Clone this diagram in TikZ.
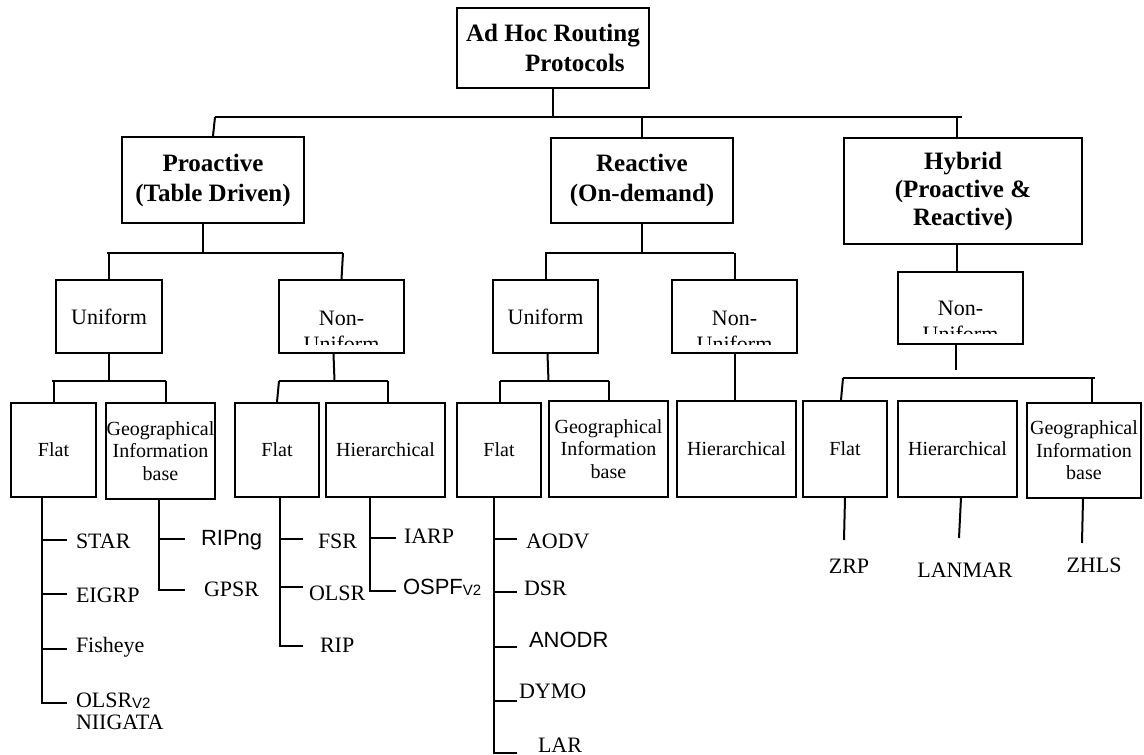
\documentclass[tikz,border=0pt]{standalone}
\usepackage{fontspec}
\setmainfont{Liberation Serif}
\newfontfamily\arialf{Liberation Sans}
% small sans subscript used in protocol names
\newcommand\vsub[1]{\raisebox{-1pt}{\arialf\fontsize{15}{15}\selectfont #1}}
\begin{document}
\begin{tikzpicture}[x=1pt,y=-1pt,line width=2pt,
  box/.style={draw,line width=2pt,inner sep=0pt,align=center},
  head/.style={box,font=\fontsize{25}{30}\selectfont\bfseries},
  mid/.style={box,font=\fontsize{22}{26}\selectfont},
  low/.style={box,font=\fontsize{20}{22.5}\selectfont},
  lbl/.style={inner sep=0pt,font=\fontsize{22}{22}\selectfont},
  leaf/.style={lbl,anchor=base west},
  sansleaf/.style={leaf,font=\arialf\fontsize{22}{22}\selectfont}]
\useasboundingbox (0,0) rectangle (1144,755);

% ---------- level 0 and 1 ----------
\node[head,align=left,minimum width=192pt,minimum height=80pt] (top) at (553,48)
  {Ad Hoc Routing\\\hspace*{59pt}Protocols};
\node[head,minimum width=182pt,minimum height=86pt] (pro) at (213,180) {Proactive\\(Table Driven)};
\node[head,minimum width=182pt,minimum height=85pt] (rea) at (642,180.5) {Reactive\\(On-demand)};
\node[head,font=\fontsize{25}{28}\selectfont\bfseries,minimum width=238pt,minimum height=106pt] (hyb) at (963,191)
  {Hybrid\\(Proactive \&\\Reactive)};

% ---------- level 2 ----------
\node[mid,minimum width=106pt,minimum height=73pt] (u1) at (109,316.5) {Uniform};
\node[box,minimum width=125pt,minimum height=73pt] (nu1) at (341.5,316.5) {};
\node[mid,minimum width=105pt,minimum height=73pt] (u2) at (545.5,316.5) {Uniform};
\node[box,minimum width=125pt,minimum height=73pt] (nu2) at (734.5,316.5) {};
\node[box,minimum width=125pt,minimum height=72pt] (nu3) at (960.5,308) {};

% two-line labels cut off by the lower edge of their text frame
\begin{scope}
  \clip (nu1.north west) rectangle (nu1.east |- 0,344);
  \node[lbl,anchor=base] (nu1a) at (341.5,325) {Non-};
  \node[lbl,anchor=base] (nu1b) at (341.5,351) {Uniform};
\end{scope}
\begin{scope}
  \clip (nu2.north west) rectangle (nu2.east |- 0,344);
  \node[lbl,anchor=base] (nu2a) at (734.5,325) {Non-};
  \node[lbl,anchor=base] (nu2b) at (734.5,351) {Uniform};
\end{scope}
\begin{scope}
  \clip (nu3.north west) rectangle (nu3.east |- 0,333);
  \node[lbl,anchor=base] (nu3a) at (960.5,315) {Non-};
  \node[lbl,anchor=base] (nu3b) at (960.5,341) {Uniform};
\end{scope}

% ---------- level 3 ----------
\node[low,minimum width=85pt,minimum height=94pt] (f1) at (53.5,450) {Flat};
\node[low,minimum width=109pt,minimum height=96pt] (g1) at (160.5,451) {Geographical\\Information\\base};
\node[low,minimum width=84pt,minimum height=94pt] (f2) at (277,450) {Flat};
\node[low,minimum width=119pt,minimum height=94pt] (h1) at (385.5,450) {Hierarchical};
\node[low,minimum width=84pt,minimum height=94pt] (f3) at (499,450) {Flat};
\node[low,minimum width=119pt,minimum height=96pt] (g2) at (608.5,449) {Geographical\\Information\\base};
\node[low,minimum width=119pt,minimum height=96pt] (h2) at (736.5,449) {Hierarchical};
\node[low,minimum width=84pt,minimum height=96pt] (f4) at (845,449) {Flat};
\node[low,minimum width=119pt,minimum height=96pt] (h3) at (957.5,449) {Hierarchical};
\node[low,minimum width=114pt,minimum height=95pt] (g3) at (1084,450.5) {Geographical\\Information\\base};

% ---------- tree connectors ----------
\coordinate (b0l) at (215,117); \coordinate (b0r) at (962,117);
\draw (b0l) -- (b0r);
\draw (top.south) -- (top.south |- b0l);
\draw (b0l) -- (pro.north);
\draw (rea.north) -- (rea.north |- b0l);
\draw ([xshift=-6pt]hyb.north) -- ([xshift=-6pt]hyb.north |- b0l);

\coordinate (b1l) at (107,253); \coordinate (b1r) at (343,253);
\draw (b1l) -- (b1r);
\draw ([xshift=-10pt]pro.south) -- ([xshift=-10pt]pro.south |- b1l);
\draw (u1.north) -- (u1.north |- b1l);
\draw (b1r) -- (nu1.north);

\coordinate (b2l) at (545,253); \coordinate (b2r) at (734,253);
\draw (b2l) -- (b2r);
\draw (rea.south) -- (rea.south |- b2l);
\draw (u2.north) -- (u2.north |- b2l);
\draw (nu2.north) -- (nu2.north |- b2r);

\coordinate (b3l) at (52,381); \coordinate (b3r) at (166,381);
\draw (b3l) -- (b3r);
\draw (u1.south) -- (u1.south |- b3l);
\draw (f1.north) -- (f1.north |- b3l);
\draw (b3r) -- (b3r |- g1.north);

\coordinate (b4l) at (279,381); \coordinate (b4r) at (388,381);
\draw (b4l) -- (b4r);
\draw ([xshift=-8pt]nu1.south) -- ([xshift=-7pt]nu1.south |- b4l);
\draw (b4l) -- (f2.north);
\draw (b4r) -- (b4r |- h1.north);

\coordinate (b5l) at (500,381); \coordinate (b5r) at (609,381);
\draw (b5l) -- (b5r);
\draw ([xshift=2pt]u2.south) -- ([xshift=3pt]u2.south |- b5l);
\draw (b5l) -- (b5l |- f3.north);
\draw (b5r) -- (b5r |- g2.north);

\draw (nu2.south) -- (nu2.south |- h2.north);

\draw ([xshift=-6pt]hyb.south) -- ([xshift=-6pt]hyb.south |- nu3.north);
\coordinate (nu3s) at (956,370);
\draw ([xshift=-4.5pt]nu3.south) -- (nu3s);
\coordinate (b6l) at (843,378); \coordinate (b6r) at (1095,378);
\draw (b6l) -- (b6r);
\draw (b6l) -- ([xshift=-4pt]f4.north);
\draw ([xshift=8pt]g3.north) -- ([xshift=8pt]g3.north |- b6r);

% ---------- protocol leaves ----------
% Flat, proactive uniform
\node[leaf] (star) at (75,548) {STAR};
\node[leaf] (eigrp) at (75,602) {EIGRP};
\node[leaf] (fish) at (75,652) {Fisheye};
\node[leaf] (olsrv2) at (75,707) {OLSR\vsub{V2}};
\node[leaf] (niig) at (75,729) {NIIGATA};
\draw (f1.south -| 42,0) |- (67,703);
\foreach \yy in {540,594,649} \draw (42,\yy) -- (67,\yy);

% Geographical, proactive uniform
\node[sansleaf] (ripng) at (200,545) {RIPng};
\node[leaf] (gpsr) at (203,596) {GPSR};
\draw (g1.south -| 159,0) |- (185,590);
\draw (159,539) -- (185,539);

% Flat, proactive non-uniform
\node[leaf] (fsr) at (317,548) {FSR};
\node[leaf] (olsr) at (308,600) {OLSR};
\node[leaf] (rip) at (319,652) {RIP};
\draw (f2.south -| 280,0) |- (303,646);
\foreach \yy in {539,587} \draw (280,\yy) -- (303,\yy);

% Hierarchical, proactive non-uniform
\node[leaf] (iarp) at (403,543) {IARP};
\node[sansleaf] (ospf) at (402,594) {OSPF\vsub{V2}};
\draw (h1.south -| 370,0) |- (396,591);
\draw (370,538) -- (396,538);

% Flat, reactive uniform
\node[leaf] (aodv) at (525,548) {AODV};
\node[leaf] (dsr) at (523,595) {DSR};
\node[sansleaf] (anodr) at (528,647) {ANODR};
\node[leaf] (dymo) at (518,698) {DYMO};
\node[leaf] (lar) at (537,752) {LAR};
\draw (f3.south -| 494,0) |- (517,753);
\foreach \yy in {539,592,647,701} \draw (494,\yy) -- (517,\yy);

% Hybrid leaves
\node[lbl,anchor=base] (zrp) at (849,573) {ZRP};
\node[lbl,anchor=base] (lanmar) at (965,577) {LANMAR};
\node[lbl,anchor=base] (zhls) at (1094,572) {ZHLS};
\draw (f4.south) -- (844,540);
\draw ([xshift=3.5pt]h3.south) -- (959,538);
\draw ([xshift=-1pt]g3.south) -- (1082,543);
\end{tikzpicture}
\end{document}
